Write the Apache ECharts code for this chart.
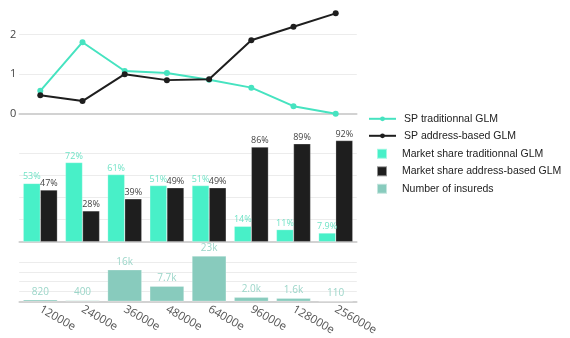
<!DOCTYPE html>
<html>
<head>
<meta charset="utf-8">
<script src="https://cdn.jsdelivr.net/npm/echarts@6/dist/echarts.min.js"></script>
<style>html,body{margin:0;padding:0;background:#fff}#c{width:570px;height:338px}</style>
</head>
<body>
<div id="c"></div>
<script>
const categories = ['12000e','24000e','36000e','48000e','64000e','96000e','128000e','256000e'];
const spTraditional = [0.58, 1.81, 1.08, 1.03, 0.86, 0.66, 0.19, 0.0];
const spAddress = [0.47, 0.32, 1.0, 0.85, 0.87, 1.86, 2.2, 2.54];
const shareTraditional = [53, 72, 61, 51, 51, 14, 11, 7.9];
const shareAddress = [47, 28, 39, 49, 49, 86, 89, 92];
const insureds = [820, 400, 16000, 7700, 23000, 2000, 1600, 110];

const TEAL_LINE = '#46e3c0';
const TEAL_BAR = '#48f0c8';
const BLACK = '#1e1e1e';
const INS = '#88cbbd';

function fmtK(v){
  if (v >= 10000) return Math.round(v/1000) + 'k';
  if (v >= 1000) return (v/1000).toFixed(1) + 'k';
  return String(Math.round(v));
}

const chart = echarts.init(document.getElementById('c'), null, {renderer:'canvas'});
const L = 19.2, R = 570 - 356.8;
const xBase = {
  type: 'category', data: categories, boundaryGap: true,
  axisTick: {show:false},
  axisLine: {show:true, lineStyle:{color:'#c4c4c4', width:1.5}},
  axisLabel: {show:false}, splitLine:{show:false}
};
const yBase = {
  type: 'value', axisLine:{show:false}, axisTick:{show:false},
  splitLine:{show:true, lineStyle:{color:'#ececec', width:1}, showMinLine:false, showMaxLine:false}
};
chart.setOption({
  animation: false,
  grid: [
    {left: L, right: R, top: 113.7 - 2.68*39.5, height: 2.68*39.5},
    {left: L, right: R, top: 241.7 - 97*1.10, height: 97*1.10},
    {left: L, right: R, top: 301.3 - 24.2*1.97, height: 24.2*1.97}
  ],
  xAxis: [
    Object.assign({}, xBase, {gridIndex:0}),
    Object.assign({}, xBase, {gridIndex:1}),
    Object.assign({}, xBase, {gridIndex:2, axisLabel:{show:true, rotate:-30, margin:7, interval:0,
      color:'#555', fontSize:11.5, fontFamily:'Open Sans'}})
  ],
  yAxis: [
    Object.assign({}, yBase, {gridIndex:0, min:0, max:2.68, interval:1,
      axisLabel:{show:true, margin:3, color:'#444', fontSize:11, fontFamily:'Open Sans', showMaxLabel:false}}),
    Object.assign({}, yBase, {gridIndex:1, min:0, max:97, interval:20, axisLabel:{show:false}}),
    Object.assign({}, yBase, {gridIndex:2, min:0, max:24200, interval:5000, axisLabel:{show:false}})
  ],
  legend: [
    {
      orient:'vertical', left: 363, top: 108.3, itemWidth: 27, itemHeight: 6, itemGap: 6,
      data: ['SP traditionnal GLM','SP address-based GLM'],
      textStyle:{fontSize:10.5, fontFamily:'Liberation Sans', color:'#222', padding:[0,0,0,3]}
    },
    {
      orient:'vertical', left: 371, top: 142.8, itemWidth: 10, itemHeight: 10, itemGap: 5.5,
      icon: 'rect',
      data: ['Market share traditionnal GLM','Market share address-based GLM','Number of insureds'],
      textStyle:{fontSize:10.5, fontFamily:'Liberation Sans', color:'#222', padding:[0,0,0,10]}
    }
  ],
  series: [
    {name:'SP traditionnal GLM', type:'line', xAxisIndex:0, yAxisIndex:0, data: spTraditional,
     symbol:'circle', symbolSize:6, clip:false, z:3,
     lineStyle:{color:TEAL_LINE, width:2}, itemStyle:{color:TEAL_LINE}},
    {name:'SP address-based GLM', type:'line', xAxisIndex:0, yAxisIndex:0, data: spAddress,
     symbol:'circle', symbolSize:6, clip:false, z:4,
     lineStyle:{color:BLACK, width:2}, itemStyle:{color:BLACK}},
    {name:'Market share traditionnal GLM', type:'bar', xAxisIndex:1, yAxisIndex:1, data: shareTraditional,
     barGap:'0%', barCategoryGap:'19%',
     itemStyle:{color:TEAL_BAR, borderColor:'rgba(255,255,255,0.5)', borderWidth:0.5},
     label:{show:true, position:'top', distance:2, color:'#6fe3c6', fontSize:9, fontFamily:'Open Sans',
       formatter: p => p.value + '%'}},
    {name:'Market share address-based GLM', type:'bar', xAxisIndex:1, yAxisIndex:1, data: shareAddress,
     barGap:'0%', barCategoryGap:'19%',
     itemStyle:{color:BLACK, borderColor:'rgba(255,255,255,0.5)', borderWidth:0.5},
     label:{show:true, position:'top', distance:2, color:'#444', fontSize:9, fontFamily:'Open Sans',
       formatter: p => p.value + '%'}},
    {name:'Number of insureds', type:'bar', xAxisIndex:2, yAxisIndex:2, data: insureds,
     barCategoryGap:'19%',
     itemStyle:{color:INS, borderColor:'rgba(255,255,255,0.5)', borderWidth:0.5},
     label:{show:true, position:'top', distance:3, color:'#9cd6c9', fontSize:10, fontFamily:'Open Sans',
       formatter: p => fmtK(p.value)}}
  ]
});
</script>
</body>
</html>
